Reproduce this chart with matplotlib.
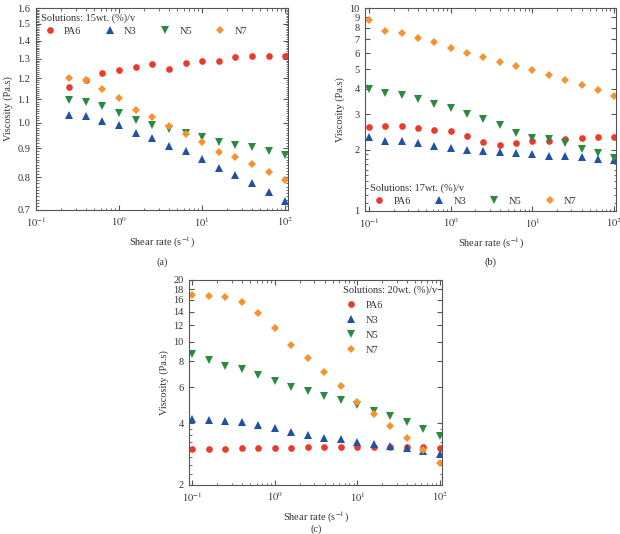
import numpy as np
import matplotlib
matplotlib.use('Agg')
import matplotlib.pyplot as plt
from matplotlib.ticker import FixedLocator, NullFormatter, LogLocator

plt.rcParams['font.family'] = ['Liberation Serif', 'DejaVu Serif']
plt.rcParams['mathtext.fontset'] = 'stix'
plt.rcParams['font.size'] = 7.5

# shear rates: 5 points per decade
rate_a = [0.251, 0.398, 0.631, 1.0, 1.585, 2.512, 3.981, 6.31, 10.0, 15.85, 25.12, 39.81, 63.1, 100.0]
rate_bc = [0.1, 0.158, 0.251, 0.398, 0.631, 1.0, 1.585, 2.512, 3.981, 6.31, 10.0, 15.85, 25.12, 39.81, 63.1, 100.0]

# (a) 15 wt.%
pa6_a = [1.16, 1.19, 1.224, 1.243, 1.258, 1.272, 1.245, 1.276, 1.288, 1.29, 1.307, 1.313, 1.315, 1.317]
n3_a = [1.033, 1.030, 1.007, 0.991, 0.959, 0.938, 0.911, 0.890, 0.863, 0.831, 0.808, 0.782, 0.753, 0.726]
n5_a = [1.098, 1.088, 1.072, 1.040, 1.010, 0.992, 0.973, 0.959, 0.944, 0.923, 0.913, 0.905, 0.892, 0.877]
n7_a = [1.200, 1.190, 1.150, 1.106, 1.055, 1.024, 0.986, 0.955, 0.923, 0.889, 0.869, 0.843, 0.818, 0.792]

# (b) 17 wt.%
pa6_b = [2.59, 2.61, 2.62, 2.56, 2.50, 2.47, 2.35, 2.18, 2.12, 2.16, 2.20, 2.22, 2.27, 2.29, 2.31, 2.31]
n3_b = [2.31, 2.21, 2.20, 2.15, 2.09, 2.05, 1.99, 1.97, 1.95, 1.92, 1.90, 1.87, 1.86, 1.84, 1.80, 1.78]
n5_b = [4.0, 3.81, 3.73, 3.56, 3.38, 3.20, 3.00, 2.83, 2.65, 2.42, 2.30, 2.26, 2.15, 2.03, 1.92, 1.82]
n7_b = [8.69, 7.70, 7.50, 7.11, 6.80, 6.38, 5.98, 5.71, 5.42, 5.16, 4.93, 4.66, 4.44, 4.19, 3.96, 3.70]

# (c) 20 wt.%
pa6_c = [2.99, 2.98, 2.99, 3.02, 3.04, 3.04, 3.02, 3.05, 3.05, 3.06, 3.06, 3.05, 3.06, 3.06, 3.05, 3.04]
n3_c = [4.18, 4.14, 4.12, 4.03, 3.91, 3.78, 3.63, 3.52, 3.40, 3.33, 3.23, 3.17, 3.11, 3.01, 2.91, 2.82]
n5_c = [8.68, 8.15, 7.64, 7.31, 6.83, 6.43, 5.99, 5.73, 5.44, 5.20, 4.89, 4.59, 4.34, 4.04, 3.75, 3.48]
n7_c = [16.9, 16.77, 16.58, 15.62, 13.75, 11.62, 9.67, 8.30, 7.12, 6.06, 5.10, 4.42, 3.88, 3.38, 2.95, 2.57]

names = ['PA6', 'N3', 'N5', 'N7']
colors = ['#ea3a2c', '#2252a3', '#2a8a40', '#f6922f']
markers = ['o', '^', 'v', 'D']
msizes = [4.8, 5.2, 5.2, 4.2]

fig = plt.figure(figsize=(6.2, 5.34), dpi=100)
ax_a = fig.add_axes([0.058, 0.607, 0.406, 0.378])
ax_b = fig.add_axes([0.589, 0.605, 0.405, 0.380])
ax_c = fig.add_axes([0.305, 0.092, 0.408, 0.384])


def draw(ax, x, series):
    for ys, name, c, m, s in zip(series, names, colors, markers, msizes):
        ax.plot(x, ys, linestyle='none', marker=m, color=c, markersize=s,
                markeredgewidth=0, label=name)
    ax.set_xscale('log')
    ax.set_yscale('log')
    ax.xaxis.set_major_locator(FixedLocator([0.1, 1, 10, 100]))
    ax.set_xticklabels([r'$10^{-1}$', r'$10^{0}$', r'$10^{1}$', r'$10^{2}$'])
    ax.xaxis.set_minor_locator(LogLocator(base=10, subs=np.arange(2, 10)))
    ax.xaxis.set_minor_formatter(NullFormatter())
    ax.tick_params(which='both', direction='in', top=True, right=True, color='#555555')
    ax.tick_params(which='major', length=3.5, labelsize=7.5, pad=4, labelcolor='#333333')
    ax.tick_params(which='minor', length=1.8)
    for sp in ax.spines.values():
        sp.set_color('#555555')
        sp.set_linewidth(0.8)
    ax.set_xlabel(r'Shear rate (s$^{-1}$)', fontsize=7.5, color='#333333', labelpad=4)
    ax.set_ylabel('Viscosity (Pa.s)', fontsize=7.5, color='#333333', labelpad=3)


def set_y(ax, lo, hi, major, minor):
    ax.set_ylim(lo, hi)
    ax.yaxis.set_major_locator(FixedLocator(major))
    ax.yaxis.set_minor_locator(FixedLocator(minor))
    ax.yaxis.set_minor_formatter(NullFormatter())


def legend(ax, loc, ncol, title, spacing=0.35):
    leg = ax.legend(loc=loc, ncol=ncol, title=title, frameon=False,
                    fontsize=7.5, title_fontsize=7.5, handlelength=1.6,
                    handletextpad=0.6, columnspacing=1.9,
                    borderaxespad=0.2, borderpad=0.3, labelspacing=spacing)
    leg._legend_box.align = 'left'
    for t in leg.get_texts():
        t.set_color('#333333')
    leg.get_title().set_color('#333333')
    return leg


# (a)
draw(ax_a, rate_a, [pa6_a, n3_a, n5_a, n7_a])
ax_a.set_xlim(0.1, 107)
major_a = [0.7, 0.8, 0.9, 1.0, 1.1, 1.2, 1.3, 1.4, 1.5, 1.6]
set_y(ax_a, 0.7, 1.6, major_a, np.arange(0.7, 1.6, 0.01))
ax_a.set_yticklabels(['0.7', '0.8', '0.9', '1.0', '1.1', '1.2', '1.3', '1.4', '1.5', '1.6'])
legend(ax_a, 'upper left', 4, 'Solutions: 15wt. (%)/v')
fig.text(0.262, 0.505, '(a)', ha='center', fontsize=7.5, color='#333333')

# (b)
draw(ax_b, rate_bc, [pa6_b, n3_b, n5_b, n7_b])
ax_b.set_xlim(0.09, 106)
set_y(ax_b, 1, 10, list(range(1, 11)), np.arange(1, 2, 0.1))
ax_b.set_yticklabels([str(v) for v in range(1, 11)])
legend(ax_b, 'lower left', 4, 'Solutions: 17wt. (%)/v')
fig.text(0.791, 0.505, '(b)', ha='center', fontsize=7.5, color='#333333')

# (c)
draw(ax_c, rate_bc, [pa6_c, n3_c, n5_c, n7_c])
ax_c.set_xlim(0.091, 106.7)
major_c = [2, 4, 6, 8, 10, 12, 14, 16, 18, 20]
set_y(ax_c, 2, 20, major_c, np.arange(2, 4, 0.25))
ax_c.set_yticklabels([str(v) for v in major_c])
legend(ax_c, 'upper right', 1, 'Solutions: 20wt. (%)/v', spacing=0.55)
fig.text(0.51, 0.005, '(c)', ha='center', fontsize=7.5, color='#333333')

fig.savefig('out.png', dpi=100)
